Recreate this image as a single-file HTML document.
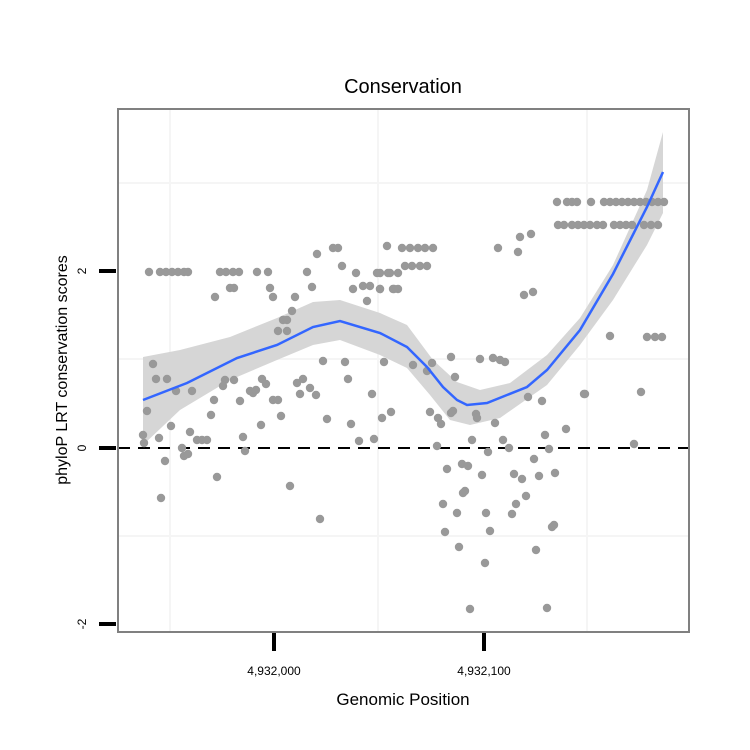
<!DOCTYPE html>
<html><head><meta charset="utf-8"><style>body{margin:0;background:#fff}svg{display:block}</style></head><body>
<svg width="750" height="750" xmlns="http://www.w3.org/2000/svg" font-family="Liberation Sans, sans-serif">
<rect width="750" height="750" fill="#fff"/>
<g stroke="#f5f5f5" stroke-width="2">
<line x1="170" y1="109" x2="170" y2="632"/><line x1="378" y1="109" x2="378" y2="632"/><line x1="587" y1="109" x2="587" y2="632"/>
<line x1="118" y1="183" x2="689" y2="183"/><line x1="118" y1="359" x2="689" y2="359"/><line x1="118" y1="536" x2="689" y2="536"/>
</g>
<polygon fill="#d6d6d6" points="143,357 180,350 230,337 277,318 313,302 340,300 380,313 407,325 433,360 457,382 480,390 510,383 547,355 580,318 613,265 647,190 663,132 663,213 647,245 613,300 580,345 547,385 500,418 470,425 450,420 430,395 407,368 380,355 340,340 313,345 277,360 230,380 180,410 143,445"/>
<line x1="118" y1="448" x2="689" y2="448" stroke="#000" stroke-width="2" stroke-dasharray="12,8"/>
<g fill="#999">
<circle cx="149" cy="272" r="4.2"/><circle cx="160" cy="272" r="4.2"/><circle cx="166" cy="272" r="4.2"/><circle cx="172" cy="272" r="4.2"/><circle cx="178" cy="272" r="4.2"/><circle cx="184" cy="272" r="4.2"/><circle cx="188" cy="272" r="4.2"/>
<circle cx="220" cy="272" r="4.2"/><circle cx="226" cy="272" r="4.2"/><circle cx="233" cy="272" r="4.2"/><circle cx="239" cy="272" r="4.2"/><circle cx="257" cy="272" r="4.2"/><circle cx="268" cy="272" r="4.2"/><circle cx="307" cy="272" r="4.2"/><circle cx="356" cy="273" r="4.2"/><circle cx="377" cy="273" r="4.2"/><circle cx="388" cy="273" r="4.2"/><circle cx="398" cy="273" r="4.2"/>
<circle cx="317" cy="254" r="4.2"/><circle cx="333" cy="248" r="4.2"/><circle cx="338" cy="248" r="4.2"/><circle cx="387" cy="246" r="4.2"/><circle cx="342" cy="266" r="4.2"/>
<circle cx="230" cy="288" r="4.2"/><circle cx="234" cy="288" r="4.2"/><circle cx="270" cy="288" r="4.2"/><circle cx="312" cy="287" r="4.2"/><circle cx="353" cy="289" r="4.2"/><circle cx="363" cy="286" r="4.2"/><circle cx="370" cy="286" r="4.2"/><circle cx="380" cy="289" r="4.2"/><circle cx="393" cy="289" r="4.2"/><circle cx="398" cy="289" r="4.2"/>
<circle cx="215" cy="297" r="4.2"/><circle cx="273" cy="297" r="4.2"/><circle cx="295" cy="297" r="4.2"/><circle cx="367" cy="301" r="4.2"/><circle cx="292" cy="311" r="4.2"/><circle cx="287" cy="320" r="4.2"/><circle cx="283" cy="320" r="4.2"/><circle cx="278" cy="331" r="4.2"/><circle cx="287" cy="331" r="4.2"/>
<circle cx="402" cy="248" r="4.2"/><circle cx="410" cy="248" r="4.2"/><circle cx="418" cy="248" r="4.2"/><circle cx="425" cy="248" r="4.2"/><circle cx="433" cy="248" r="4.2"/><circle cx="498" cy="248" r="4.2"/><circle cx="518" cy="252" r="4.2"/><circle cx="520" cy="237" r="4.2"/><circle cx="531" cy="234" r="4.2"/>
<circle cx="405" cy="266" r="4.2"/><circle cx="412" cy="266" r="4.2"/><circle cx="420" cy="266" r="4.2"/><circle cx="427" cy="266" r="4.2"/><circle cx="380" cy="273" r="4.2"/><circle cx="390" cy="273" r="4.2"/><circle cx="380" cy="289" r="4.2"/><circle cx="394" cy="289" r="4.2"/><circle cx="524" cy="295" r="4.2"/><circle cx="533" cy="292" r="4.2"/>
<circle cx="557" cy="202" r="4.2"/><circle cx="567" cy="202" r="4.2"/><circle cx="572" cy="202" r="4.2"/><circle cx="577" cy="202" r="4.2"/><circle cx="591" cy="202" r="4.2"/><circle cx="604" cy="202" r="4.2"/><circle cx="610" cy="202" r="4.2"/><circle cx="616" cy="202" r="4.2"/><circle cx="622" cy="202" r="4.2"/><circle cx="628" cy="202" r="4.2"/><circle cx="634" cy="202" r="4.2"/><circle cx="640" cy="202" r="4.2"/><circle cx="646" cy="202" r="4.2"/><circle cx="652" cy="202" r="4.2"/><circle cx="658" cy="202" r="4.2"/><circle cx="664" cy="202" r="4.2"/>
<circle cx="558" cy="225" r="4.2"/><circle cx="564" cy="225" r="4.2"/><circle cx="572" cy="225" r="4.2"/><circle cx="578" cy="225" r="4.2"/><circle cx="584" cy="225" r="4.2"/><circle cx="590" cy="225" r="4.2"/><circle cx="597" cy="225" r="4.2"/><circle cx="603" cy="225" r="4.2"/><circle cx="614" cy="225" r="4.2"/><circle cx="620" cy="225" r="4.2"/><circle cx="626" cy="225" r="4.2"/><circle cx="632" cy="225" r="4.2"/><circle cx="644" cy="225" r="4.2"/><circle cx="651" cy="225" r="4.2"/><circle cx="658" cy="225" r="4.2"/>
<circle cx="610" cy="336" r="4.2"/><circle cx="647" cy="337" r="4.2"/><circle cx="655" cy="337" r="4.2"/><circle cx="662" cy="337" r="4.2"/><circle cx="585" cy="394" r="4.2"/><circle cx="641" cy="392" r="4.2"/>
<circle cx="153" cy="364" r="4.2"/><circle cx="156" cy="379" r="4.2"/><circle cx="167" cy="379" r="4.2"/><circle cx="176" cy="391" r="4.2"/><circle cx="192" cy="391" r="4.2"/><circle cx="147" cy="411" r="4.2"/><circle cx="143" cy="435" r="4.2"/><circle cx="144" cy="443" r="4.2"/><circle cx="159" cy="438" r="4.2"/><circle cx="171" cy="426" r="4.2"/><circle cx="165" cy="461" r="4.2"/><circle cx="161" cy="498" r="4.2"/><circle cx="190" cy="432" r="4.2"/><circle cx="197" cy="440" r="4.2"/><circle cx="202" cy="440" r="4.2"/><circle cx="207" cy="440" r="4.2"/><circle cx="182" cy="448" r="4.2"/><circle cx="184" cy="456" r="4.2"/><circle cx="188" cy="454" r="4.2"/><circle cx="211" cy="415" r="4.2"/><circle cx="214" cy="400" r="4.2"/><circle cx="217" cy="477" r="4.2"/><circle cx="225" cy="380" r="4.2"/><circle cx="223" cy="386" r="4.2"/><circle cx="234" cy="380" r="4.2"/><circle cx="240" cy="401" r="4.2"/><circle cx="250" cy="391" r="4.2"/><circle cx="253" cy="393" r="4.2"/><circle cx="256" cy="390" r="4.2"/><circle cx="243" cy="437" r="4.2"/><circle cx="245" cy="451" r="4.2"/><circle cx="261" cy="425" r="4.2"/><circle cx="262" cy="379" r="4.2"/><circle cx="266" cy="384" r="4.2"/><circle cx="273" cy="400" r="4.2"/><circle cx="278" cy="400" r="4.2"/><circle cx="281" cy="416" r="4.2"/><circle cx="290" cy="486" r="4.2"/><circle cx="297" cy="383" r="4.2"/><circle cx="303" cy="379" r="4.2"/><circle cx="300" cy="394" r="4.2"/><circle cx="310" cy="388" r="4.2"/><circle cx="316" cy="395" r="4.2"/><circle cx="323" cy="361" r="4.2"/><circle cx="327" cy="419" r="4.2"/><circle cx="345" cy="362" r="4.2"/><circle cx="348" cy="379" r="4.2"/><circle cx="351" cy="424" r="4.2"/><circle cx="320" cy="519" r="4.2"/><circle cx="359" cy="441" r="4.2"/><circle cx="372" cy="394" r="4.2"/><circle cx="374" cy="439" r="4.2"/><circle cx="382" cy="418" r="4.2"/><circle cx="391" cy="412" r="4.2"/><circle cx="384" cy="362" r="4.2"/>
<circle cx="413" cy="365" r="4.2"/><circle cx="432" cy="363" r="4.2"/><circle cx="427" cy="371" r="4.2"/><circle cx="451" cy="357" r="4.2"/><circle cx="455" cy="377" r="4.2"/><circle cx="480" cy="359" r="4.2"/><circle cx="493" cy="358" r="4.2"/><circle cx="505" cy="362" r="4.2"/><circle cx="500" cy="360" r="4.2"/><circle cx="430" cy="412" r="4.2"/><circle cx="438" cy="418" r="4.2"/><circle cx="441" cy="424" r="4.2"/><circle cx="451" cy="413" r="4.2"/><circle cx="453" cy="411" r="4.2"/><circle cx="476" cy="414" r="4.2"/><circle cx="477" cy="418" r="4.2"/><circle cx="495" cy="423" r="4.2"/><circle cx="528" cy="397" r="4.2"/><circle cx="542" cy="401" r="4.2"/><circle cx="584" cy="394" r="4.2"/><circle cx="566" cy="429" r="4.2"/><circle cx="545" cy="435" r="4.2"/><circle cx="437" cy="446" r="4.2"/><circle cx="472" cy="440" r="4.2"/><circle cx="503" cy="440" r="4.2"/><circle cx="509" cy="448" r="4.2"/><circle cx="488" cy="452" r="4.2"/><circle cx="549" cy="449" r="4.2"/><circle cx="634" cy="444" r="4.2"/><circle cx="534" cy="459" r="4.2"/><circle cx="447" cy="469" r="4.2"/><circle cx="462" cy="464" r="4.2"/><circle cx="468" cy="466" r="4.2"/><circle cx="482" cy="475" r="4.2"/><circle cx="514" cy="474" r="4.2"/><circle cx="522" cy="479" r="4.2"/><circle cx="539" cy="476" r="4.2"/><circle cx="555" cy="473" r="4.2"/><circle cx="465" cy="491" r="4.2"/><circle cx="463" cy="493" r="4.2"/><circle cx="526" cy="496" r="4.2"/><circle cx="516" cy="504" r="4.2"/><circle cx="443" cy="504" r="4.2"/><circle cx="457" cy="513" r="4.2"/><circle cx="486" cy="513" r="4.2"/><circle cx="512" cy="514" r="4.2"/><circle cx="552" cy="527" r="4.2"/><circle cx="554" cy="525" r="4.2"/><circle cx="445" cy="532" r="4.2"/><circle cx="490" cy="531" r="4.2"/><circle cx="459" cy="547" r="4.2"/><circle cx="536" cy="550" r="4.2"/><circle cx="485" cy="563" r="4.2"/><circle cx="470" cy="609" r="4.2"/><circle cx="547" cy="608" r="4.2"/>
</g>
<polyline fill="none" stroke="#3366ff" stroke-width="2.5" points="143,400 187,383 237,358 277,345 313,327 340,321 380,333 407,347 427,367 443,387 457,400 467,405 487,403 527,387 547,370 580,330 613,274 647,207 663,172"/>
<rect x="118" y="109" width="571" height="523" fill="none" stroke="#808080" stroke-width="2"/>
<g stroke="#000" stroke-width="4">
<line x1="99" y1="271" x2="116" y2="271"/><line x1="99" y1="448" x2="116" y2="448"/><line x1="99" y1="624" x2="116" y2="624"/>
<line x1="274" y1="633" x2="274" y2="651"/><line x1="484" y1="633" x2="484" y2="651"/>
</g>
<g font-size="12" fill="#000" text-anchor="middle">
<text transform="translate(86,271) rotate(-90)">2</text>
<text transform="translate(86,448) rotate(-90)">0</text>
<text transform="translate(86,624) rotate(-90)">-2</text>
<text x="274" y="675">4,932,000</text>
<text x="484" y="675">4,932,100</text>
</g>
<text x="403" y="705" font-size="17" text-anchor="middle">Genomic Position</text>
<text transform="translate(67,370) rotate(-90)" font-size="16" text-anchor="middle">phyloP LRT conservation scores</text>
<text x="403" y="93" font-size="20" text-anchor="middle">Conservation</text>
</svg>
</body></html>
